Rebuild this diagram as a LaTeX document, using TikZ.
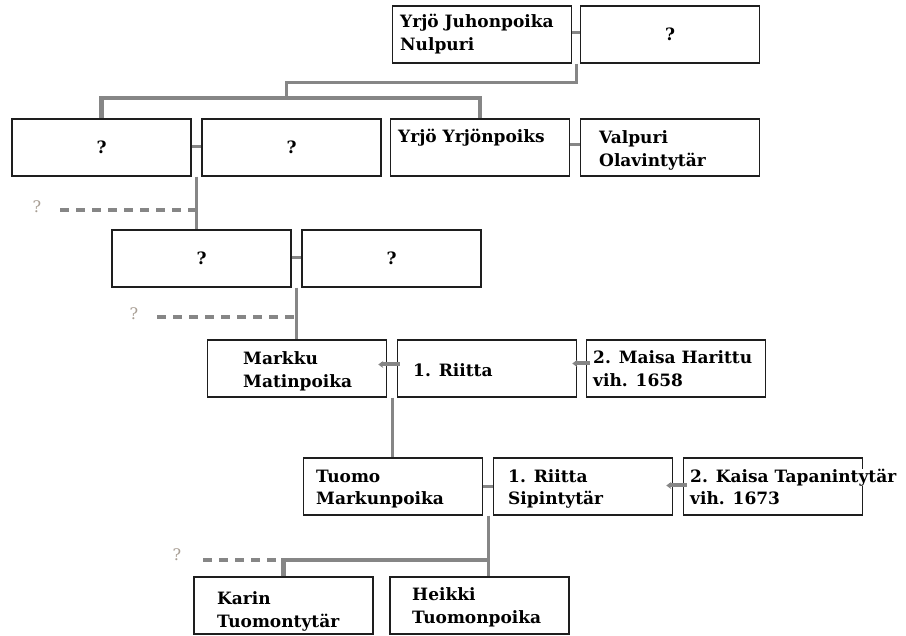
\documentclass[tikz,border=0pt]{standalone}
\usepackage{fontspec}
\setmainfont{DejaVu Serif}
\usetikzlibrary{calc,arrows.meta}
\definecolor{lnk}{RGB}{134,134,134}
\definecolor{qm}{RGB}{168,158,148}
\definecolor{bord}{RGB}{30,30,30}
\begin{document}
\begin{tikzpicture}[x=1pt,y=-1pt,
  box/.style={draw=bord, line width=1.5pt, minimum width=179pt, minimum height=57pt, inner sep=0pt},
  txt/.style={font=\fontsize{17}{23}\selectfont\bfseries, align=left, inner sep=0pt, anchor=base west},
  qbox/.style={font=\fontsize{17}{20}\selectfont\bfseries},
  link/.style={draw=lnk, line width=3pt},
  bar/.style={draw=lnk, line width=4.5pt},
  wed/.style={draw=lnk, line width=4pt, {Stealth[length=5pt,width=7pt]}-},
  dline/.style={draw=lnk, line width=4pt, dash pattern=on 9pt off 7pt},
  qlabel/.style={text=qm, font=\fontsize{16}{18}\selectfont, inner sep=0pt}
]
\useasboundingbox (0,0) rectangle (906,636);
% boxes
\node[box] (A)  at (482,34.5) {};
\node[box] (B)  at (670,34.5) {};
\node[box] (C)  at (101.5,147.5) {};
\node[box] (D)  at (291.5,147.5) {};
\node[box] (E)  at (480,147.5) {};
\node[box] (F)  at (670,147.5) {};
\node[box] (G)  at (201.5,258.5) {};
\node[box] (H)  at (391.5,258.5) {};
\node[box] (M)  at (297,368.5) {};
\node[box] (R1) at (487,368.5) {};
\node[box] (R2) at (676,368.5) {};
\node[box] (T)  at (393,486.5) {};
\node[box] (S)  at (583,486.5) {};
\node[box] (K)  at (773,486.5) {};
\node[box] (Ka) at (283.5,605.5) {};
\node[box] (He) at (479.5,605.5) {};
% texts (anchor = baseline of the last line)
\node[txt] (tA)  at (400,51)  {Yrjö Juhonpoika\\Nulpuri};
\node[qbox] (tB) at (B) {?};
\node[qbox] (tC) at (C) {?};
\node[qbox] (tD) at (D) {?};
\node[txt] (tE)  at (398,143) {Yrjö Yrjönpoiks};
\node[txt] (tF)  at (599,167) {Valpuri\\Olavintytär};
\node[qbox] (tG) at (G) {?};
\node[qbox] (tH) at (H) {?};
\node[txt] (tM)  at (243,388) {Markku\\Matinpoika};
\node[txt] (tR1) at (413,377) {1. Riitta};
\node[txt] (tR2) at (593,387) {2. Maisa Harittu\\vih. 1658};
\node[txt] (tT)  at (316,505) {Tuomo\\Markunpoika};
\node[txt] (tS)  at (508,505) {1. Riitta\\Sipintytär};
\node[txt] (tK)  at (690,505) {{\setlength\fboxsep{0pt}\colorbox{white}{2. Kaisa Tapanintytär}}\\vih. 1673};
\node[txt] (tKa) at (217,627) {Karin\\Tuomontytär};
\node[txt] (tHe) at (412,623) {Heikki\\Tuomonpoika};
% unknown-parent labels
\node[qlabel] (q1) at (37,207) {?};
\node[qlabel] (q2) at (134,314) {?};
\node[qlabel] (q3) at (177,555) {?};
% couples
\coordinate (AB) at ($(A.east)!0.5!(B.west)$);
\coordinate (CD) at ($(C.east)!0.5!(D.west)$);
\coordinate (GH) at ($(G.east)!0.5!(H.west)$);
\coordinate (MR) at ($(M.east)!0.5!(R1.west)$);
\coordinate (TS) at ($(T.east)!0.5!(S.west)$);
\draw[link] ($(A.east)+(0,-2)$) -- ($(B.west)+(0,-2)$);
\draw[link] ($(C.east)+(0,-1)$) -- ($(D.west)+(0,-1)$);
\draw[link] ($(E.east)+(0,-3)$) -- ($(F.west)+(0,-3)$);
\draw[link] ($(G.east)+(0,-1)$) -- ($(H.west)+(0,-1)$);
\draw[wed] ($(M.east)+(-9,-4)$) -- ($(R1.west)+(3,-4)$);
\draw[wed] ($(R1.east)+(-5,-5)$) -- ($(R2.west)+(4,-5)$);
\draw[link] (T.east) -- (S.west);
\draw[wed] ($(S.east)+(-7,-1)$) -- ($(K.west)+(4,-1)$);
% descent lines
\draw[link] (AB |- A.south) |- (286,83) -- (286,98);
\draw[bar] (C.north) -- (C.north |- 0,98) -- (E.north |- 0,98) -- (E.north);
\draw[link] (CD |- C.south) -- (CD |- G.north);
\draw[dline] (60,210) -- (CD |- 0,210);
\draw[link] (GH |- G.south) -- (GH |- M.north);
\draw[dline] (157,317) -- (GH |- 0,317);
\draw[link] (MR |- M.south) -- (MR |- T.north);
\draw[link] (TS |- T.south) -- (TS |- He.north);
\draw[bar] (Ka.north) -- (Ka.north |- 0,560) -- (TS |- 0,560);
\draw[dline] (203,560) -- (Ka.north |- 0,560);
\end{tikzpicture}
\end{document}
